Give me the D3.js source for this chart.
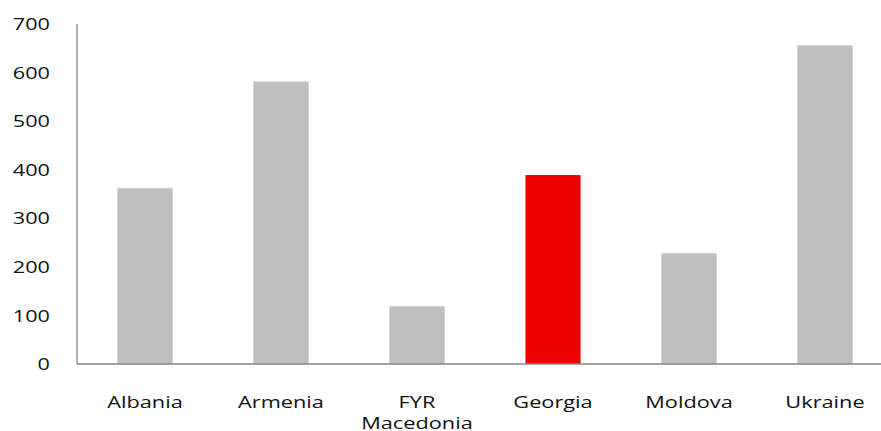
<!DOCTYPE html>
<html><head><meta charset="utf-8">
<script src="https://cdn.jsdelivr.net/npm/d3@7"></script>
<style>html,body{margin:0;padding:0;background:#fff;overflow:hidden}</style>
</head><body>
<svg id="c" width="881" height="431"></svg>
<script>
const categories = ["Albania", "Armenia", "FYR\nMacedonia", "Georgia", "Moldova", "Ukraine"];
const values = [362, 581, 119, 389, 228, 656];
const highlight = ["Georgia"];
const yTicks = [0, 100, 200, 300, 400, 500, 600, 700];

const svg = d3.select("#c");
const mLeft = 77, mRight = 893, mTop = 24, mBottom = 364;
const font = "'Open Sans', sans-serif";

const x = d3.scaleBand().domain(categories).range([mLeft, mRight]).paddingInner(0.595).paddingOuter(0.2975);
const y = d3.scaleLinear().domain([0, 700]).range([mBottom, mTop]);

svg.selectAll("rect.bar").data(categories).join("rect")
  .attr("class", "bar")
  .attr("x", d => x(d))
  .attr("width", x.bandwidth())
  .attr("y", (d, i) => y(values[i]))
  .attr("height", (d, i) => y(0) - y(values[i]))
  .attr("fill", d => highlight.includes(d) ? "#eb0000" : "#bfbfbf")
  .attr("stroke", d => highlight.includes(d) ? "none" : "#d6d6d6")
  .attr("stroke-width", 0.8);

// y axis
const ya = svg.append("g").attr("transform", `translate(${mLeft},0)`)
  .call(d3.axisLeft(y).tickValues(yTicks).tickSize(0).tickFormat(d3.format("d")));
ya.select(".domain").remove();
ya.selectAll("text").attr("x", null).attr("dy", "0.36em")
  .attr("transform", `translate(${50 - mLeft},0) scale(1.4,1)`)
  .attr("font-family", font).attr("font-size", 15.5).attr("fill", "#111").attr("text-anchor", "end");

// axis lines
svg.append("line").attr("x1", mLeft).attr("x2", mLeft).attr("y1", y(700)).attr("y2", y(0))
  .attr("stroke", "#8a8a8a").attr("stroke-width", 1.3);
svg.append("line").attr("x1", mLeft).attr("x2", 881).attr("y1", y(0)).attr("y2", y(0))
  .attr("stroke", "#8a8a8a").attr("stroke-width", 1.3);

// x labels
const xa = svg.append("g");
categories.forEach(c => {
  const lines = c.split("\n");
  const cx = x(c) + x.bandwidth() / 2;
  lines.forEach((l, i) => xa.append("text")
    .attr("transform", `translate(${cx},${408 + i * 20.5}) scale(1.28,1)`)
    .attr("text-anchor", "middle").attr("font-family", font).attr("font-size", 17).attr("fill", "#111")
    .text(l));
});
</script>
</body></html>
